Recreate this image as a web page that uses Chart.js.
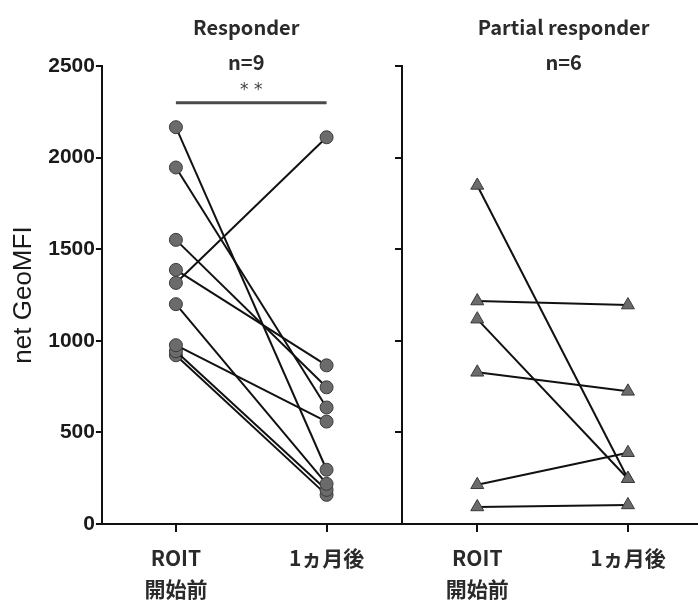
<!DOCTYPE html>
<html>
<head>
<meta charset="utf-8">
<script src="https://cdn.jsdelivr.net/npm/chart.js@4"></script>
<style>
html, body { margin: 0; padding: 0; background: #fff; }
</style>
</head>
<body>
<canvas id="myChart" width="698" height="607"></canvas>
<script>
var timepoints = [['ROIT', '開始前'], '1ヵ月後'];
var responderPre = [2166, 1946, 1551, 1387, 1316, 1200, 976, 943, 921];
var responderPost = [296, 636, 746, 866, 2111, 219, 559, 186, 159];
var partialPre = [1848, 1217, 1118, 828, 214, 93];
var partialPost = [247, 1195, 247, 724, 389, 104];
var groupTitles = ['Responder', 'Partial responder'];
var groupCounts = ['n=9', 'n=6'];
var sigMark = '**';
var sigLevel = 2300;

var jpFont = '"Noto Sans CJK JP", "Noto Sans", sans-serif';
var datasets = [];

responderPre.forEach(function (v, i) {
    datasets.push({
        data: [{ x: 1, y: v }, { x: 2, y: responderPost[i] }],
        borderColor: '#111',
        borderWidth: 2,
        pointStyle: 'circle',
        pointRadius: 6.5,
        pointBackgroundColor: '#6b6b6b',
        pointBorderColor: '#3a3a3a',
        pointBorderWidth: 1
    });
});

partialPre.forEach(function (v, i) {
    datasets.push({
        data: [{ x: 3, y: v }, { x: 4, y: partialPost[i] }],
        borderColor: '#111',
        borderWidth: 2,
        pointStyle: 'triangle',
        pointRadius: 7.5,
        pointBackgroundColor: '#6b6b6b',
        pointBorderColor: '#3a3a3a',
        pointBorderWidth: 1
    });
});

// headers, n counts and significance bar
var annotations = {
    id: 'annotations',
    afterDraw: function (chart) {
        var c = chart.ctx, x = chart.scales.x, y = chart.scales.y;
        var centers = [x.getPixelForValue(1.5) - 5, x.getPixelForValue(3.5) + 11];
        c.save();
        c.fillStyle = '#2a2a2a';
        c.textAlign = 'center';
        c.textBaseline = 'middle';
        c.font = 'bold 20px ' + jpFont;
        groupTitles.forEach(function (t, i) {
            c.fillText(t, centers[i], 27);
            c.fillText(groupCounts[i], centers[i], 62);
        });

        var yb = y.getPixelForValue(sigLevel);
        c.strokeStyle = '#4a4a4a';
        c.lineWidth = 3;
        c.beginPath();
        c.moveTo(x.getPixelForValue(1), yb);
        c.lineTo(x.getPixelForValue(2), yb);
        c.stroke();
        c.fillStyle = '#444';
        c.font = '17px "DejaVu Sans", sans-serif';
        c.fillText(sigMark.split('').join(' '), (x.getPixelForValue(1) + x.getPixelForValue(2)) / 2, yb - 12);
        c.restore();
    }
};

var ctx = document.getElementById('myChart');

var myChart = new Chart(ctx, {
    type: 'line',
    data: { datasets: datasets },
    options: {
        responsive: false,
        animation: false,
        layout: { autoPadding: false, padding: { top: 66, left: 8, right: 0, bottom: -8 } },
        plugins: { legend: { display: false }, tooltip: { enabled: false } },
        scales: {
            x: {
                type: 'linear',
                min: 0.509,
                max: 4.465,
                afterBuildTicks: function (s) {
                    s.ticks = [1, 2, 3, 4].map(function (v) { return { value: v }; });
                },
                ticks: {
                    autoSkip: false,
                    maxRotation: 0,
                    padding: 10,
                    color: '#2a2a2a',
                    font: { family: jpFont, size: 21, weight: 'bold', lineHeight: 1.5 },
                    callback: function (v) { return timepoints[(v - 1) % 2]; }
                },
                grid: { drawOnChartArea: false, tickLength: 8, color: '#111', lineWidth: 2 },
                border: { color: '#111', width: 2 }
            },
            y: {
                min: 0,
                max: 2500,
                ticks: {
                    stepSize: 500,
                    padding: 1,
                    color: '#1a1a1a',
                    font: { family: '"Liberation Sans", Arial, sans-serif', size: 21, weight: 'bold' },
                    callback: function (v) { return String(v); }
                },
                title: {
                    display: true,
                    text: 'net GeoMFI',
                    color: '#1a1a1a',
                    padding: { top: 0, bottom: 8 },
                    font: { family: '"Liberation Sans", Arial, sans-serif', size: 26 }
                },
                grid: { drawOnChartArea: false, tickLength: 6, color: '#111', lineWidth: 2 },
                border: { color: '#111', width: 2 }
            },
            y2: {
                axis: 'y',
                position: { x: 2.5 },
                min: 0,
                max: 2500,
                ticks: { stepSize: 500, display: false },
                grid: { drawOnChartArea: false, tickLength: 6, color: '#111', lineWidth: 2 },
                border: { color: '#111', width: 2 }
            }
        }
    },
    plugins: [annotations]
});
</script>
</body>
</html>
